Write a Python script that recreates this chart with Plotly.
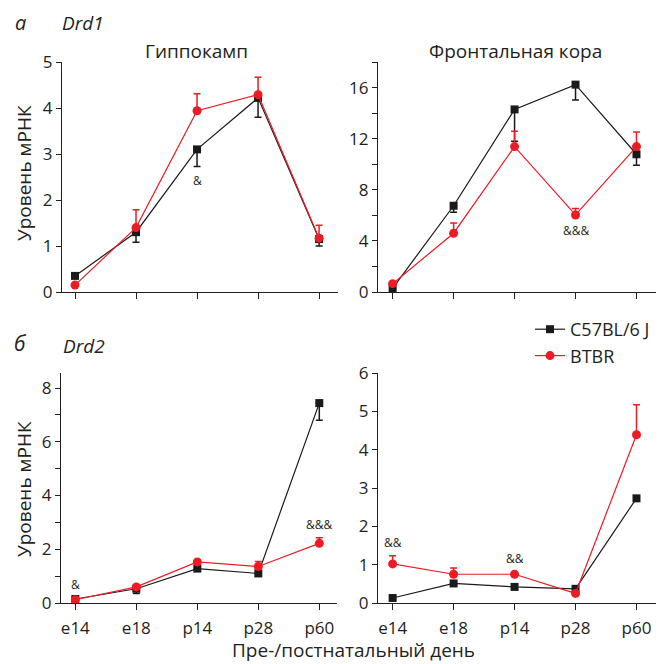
import plotly.graph_objects as go

W, H = 670, 664
OFF = 8  # page offset of the figure inside the browser window
days = ["e14", "e18", "p14", "p28", "p60"]
xi = [0, 1, 2, 3, 4]

# Drd1, hippocampus
d1_hip_b6 = [0.35, 1.30, 3.10, 4.22, 1.15]
d1_hip_b6_err = [0.04, 0.22, 0.37, 0.42, 0.15]
d1_hip_btbr = [0.15, 1.40, 3.94, 4.29, 1.17]
d1_hip_btbr_err = [0.03, 0.39, 0.37, 0.38, 0.28]
# Drd1, frontal cortex
d1_fc_b6 = [0.29, 6.75, 14.29, 16.23, 10.78]
d1_fc_b6_err = [0.1, 0.5, 2.5, 1.2, 0.86]
d1_fc_btbr = [0.65, 4.60, 11.38, 6.03, 11.38]
d1_fc_btbr_err = [0.05, 0.8, 1.2, 0.5, 1.14]
# Drd2, hippocampus
d2_hip_b6 = [0.15, 0.53, 1.28, 1.10, 7.44]
d2_hip_b6_err = [0.03, 0.18, 0.05, 0.05, 0.64]
d2_hip_btbr = [0.12, 0.60, 1.53, 1.36, 2.22]
d2_hip_btbr_err = [0.02, 0.05, 0.05, 0.18, 0.21]
# Drd2, frontal cortex
d2_fc_b6 = [0.13, 0.51, 0.42, 0.37, 2.73]
d2_fc_b6_err = [0.05, 0.05, 0.03, 0.03, 0.05]
d2_fc_btbr = [1.02, 0.75, 0.75, 0.25, 4.39]
d2_fc_btbr_err = [0.21, 0.16, 0.03, 0.05, 0.78]

BLACK = "#1a1a1a"
RED = "#ec1c24"
TXT = "#231f20"
FONT = "Open Sans"

fig = go.Figure()

panels = [
    ("x", "y", d1_hip_b6, d1_hip_b6_err, d1_hip_btbr, d1_hip_btbr_err, False),
    ("x2", "y2", d1_fc_b6, d1_fc_b6_err, d1_fc_btbr, d1_fc_btbr_err, False),
    ("x3", "y3", d2_hip_b6, d2_hip_b6_err, d2_hip_btbr, d2_hip_btbr_err, False),
    ("x4", "y4", d2_fc_b6, d2_fc_b6_err, d2_fc_btbr, d2_fc_btbr_err, True),
]
for xa, ya, b6, b6e, bt, bte, leg in panels:
    fig.add_trace(go.Scatter(
        x=xi, y=b6, xaxis=xa, yaxis=ya, mode="lines+markers", name="C57BL/6 J",
        showlegend=leg, cliponaxis=False,
        line=dict(color=BLACK, width=1.2),
        marker=dict(symbol="square", size=8, color=BLACK),
        error_y=dict(type="data", symmetric=False, array=[0]*5, arrayminus=b6e,
                     color=BLACK, thickness=1.5, width=3.5)))
    fig.add_trace(go.Scatter(
        x=xi, y=bt, xaxis=xa, yaxis=ya, mode="lines+markers", name="BTBR",
        showlegend=leg, cliponaxis=False,
        line=dict(color=RED, width=1.2),
        marker=dict(symbol="circle", size=9, color=RED),
        error_y=dict(type="data", symmetric=False, array=bte, arrayminus=[0]*5,
                     color=RED, thickness=1.5, width=3.5)))

def fx(px):
    return (px - OFF) / W

def fy(py):
    return 1 - (py - OFF) / H

def px_x(a, b):
    return [fx(a), fx(b)]

def px_y(top, bottom):
    return [fy(bottom), fy(top)]

xcommon = dict(showline=True, linecolor=TXT, linewidth=1.2, ticks="outside",
               ticklen=6, tickcolor=TXT, tickwidth=1.2, showgrid=False, zeroline=False,
               ticklabelstandoff=3,
               tickvals=xi, tickfont=dict(family=FONT, size=17, color=TXT))
ycommon = dict(showline=True, linecolor=TXT, linewidth=1.2, ticks="outside",
               ticklen=5, tickcolor=TXT, tickwidth=1.2, showgrid=False, zeroline=False,
               tickfont=dict(family=FONT, size=17, color=TXT))

d1_ticks_r = [0, 2, 4, 6, 8, 10, 12, 14, 16, 18]
d1_text_r = ["0", "", "4", "", "8", "", "12", "", "16", ""]
d2_ticks_l = [0, 1, 2, 3, 4, 5, 6, 7, 8]
d2_text_l = ["0", "", "2", "", "4", "", "6", "", "8"]

fig.update_layout(
    width=W, height=H, margin=dict(l=0, r=0, t=0, b=0, autoexpand=False),
    paper_bgcolor="white", plot_bgcolor="white",
    font=dict(family=FONT, color=TXT),
    xaxis=dict(xcommon, domain=px_x(62, 338), range=[-0.213, 4.31], anchor="y",
               ticktext=[""] * 5),
    yaxis=dict(ycommon, domain=px_y(62, 292), range=[0, 5], anchor="x",
               tickvals=[0, 1, 2, 3, 4, 5]),
    xaxis2=dict(xcommon, domain=px_x(378, 656), range=[-0.24, 4.32], anchor="y2",
                ticktext=[""] * 5),
    yaxis2=dict(ycommon, domain=px_y(62, 292), range=[0, 18], anchor="x2",
                tickvals=d1_ticks_r, ticktext=d1_text_r),
    xaxis3=dict(xcommon, domain=px_x(61, 337), range=[-0.235, 4.29], anchor="y3",
                ticktext=days),
    yaxis3=dict(ycommon, domain=px_y(373, 603), range=[0, 8.56], anchor="x3",
                tickvals=d2_ticks_l, ticktext=d2_text_l),
    xaxis4=dict(xcommon, domain=px_x(378, 656), range=[-0.24, 4.32], anchor="y4",
                ticktext=days),
    yaxis4=dict(ycommon, domain=px_y(373, 603), range=[0, 6], anchor="x4",
                tickvals=[0, 1, 2, 3, 4, 5, 6]),
    legend=dict(x=fx(530), y=fy(311), xanchor="left", yanchor="top",
                font=dict(family=FONT, size=18, color=TXT), bgcolor="rgba(0,0,0,0)",
                itemwidth=30, tracegroupgap=0),
)

ann = []
def t(x, y, text, size=16, xref="paper", yref="paper", **kw):
    d = dict(x=x, y=y, xref=xref, yref=yref, text=text, showarrow=False,
             xanchor="center", yanchor="middle",
             font=dict(family=FONT, size=size, color=TXT))
    d.update(kw)
    ann.append(d)

# panel letters and gene names
t(fx(20), fy(22), "<i>а</i>", size=20)
t(fx(83), fy(22.5), "<i>Drd1</i>", size=19)
t(fx(20), fy(343), "<i>б</i>", size=21)
t(fx(84), fy(346), "<i>Drd2</i>", size=19)
# column titles
t(fx(196), fy(51), "Гиппокамп", size=19)
t(fx(515), fy(51), "Фронтальная кора", size=19)
# y-axis titles
t(fx(24), fy(173), "Уровень мРНК", size=19, textangle=-90)
t(fx(24), fy(489), "Уровень мРНК", size=19, textangle=-90)
# x-axis title
t(fx(353), fy(650), "Пре-/постнатальный день", size=19)
# significance marks
t(2, 2.42, "&", size=12, xref="x", yref="y")
t(3, 4.8, "&&&", size=12, xref="x2", yref="y2")
t(0, 0.68, "&", size=12, xref="x3", yref="y3")
t(4, 2.92, "&&&", size=12, xref="x3", yref="y3")
t(0, 1.59, "&&", size=12, xref="x4", yref="y4")
t(2, 1.17, "&&", size=12, xref="x4", yref="y4")

fig.update_layout(annotations=ann)
fig.write_html("out.html")
